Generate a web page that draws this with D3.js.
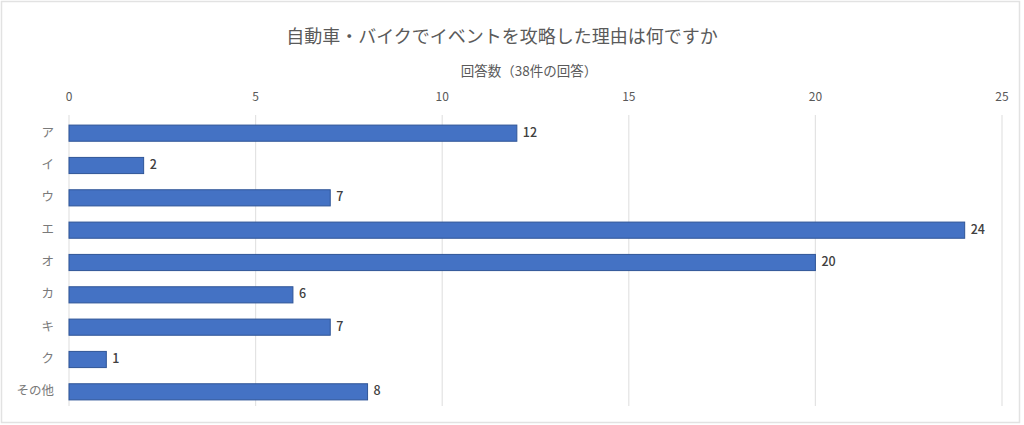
<!DOCTYPE html>
<html lang="ja">
  <head>
    <meta charset="UTF-8" />
    <script src="https://cdnjs.cloudflare.com/ajax/libs/d3/7.8.5/d3.min.js"></script>
    <title>Chart</title>
    <style>
      body { margin: 0; background: #fff; }
      text { font-family: "Noto Sans CJK JP", "Noto Sans", sans-serif; }
    </style>
  </head>
  <body>
    <script>
      const categories = ["ア", "イ", "ウ", "エ", "オ", "カ", "キ", "ク", "その他"];
      const counts = [12, 2, 7, 24, 20, 6, 7, 1, 8];
      const tickValues = [0, 5, 10, 15, 20, 25];
      const title = "自動車・バイクでイベントを攻略した理由は何ですか";
      const axisTitle = "回答数（38件の回答）";

      const W = 1024, H = 425;
      const svg = d3.select("body").append("svg")
        .attr("width", W).attr("height", H);

      // outer frame
      svg.append("rect")
        .attr("x", 1.5).attr("y", 1.5)
        .attr("width", 1018).attr("height", 421)
        .attr("fill", "#fff").attr("stroke", "#e2e2e2").attr("stroke-width", 1.5);

      const x = d3.scaleLinear().domain([0, 25]).range([69, 1002]);
      const y = d3.scaleBand().domain(categories).range([117, 408]).paddingInner(0.5).paddingOuter(0.25);

      // gridlines
      svg.append("g").selectAll("line").data(tickValues).join("line")
        .attr("x1", d => x(d)).attr("x2", d => x(d))
        .attr("y1", 115).attr("y2", 406)
        .attr("stroke", "#e3e3e3").attr("stroke-width", 1.2);

      // tick labels
      svg.append("g").selectAll("text").data(tickValues).join("text")
        .attr("x", d => x(d)).attr("y", 98)
        .attr("text-anchor", "middle").attr("dominant-baseline", "middle")
        .attr("font-size", 12).attr("fill", "#595959")
        .text(d => d);

      svg.append("text")
        .attr("x", 502).attr("y", 38)
        .attr("text-anchor", "middle").attr("dominant-baseline", "middle")
        .attr("font-size", 18).attr("fill", "#5a5a5a")
        .text(title);

      svg.append("text")
        .attr("x", 529).attr("y", 72)
        .attr("text-anchor", "middle").attr("dominant-baseline", "middle")
        .attr("font-size", 13.5).attr("fill", "#5a5a5a")
        .text(axisTitle);

      // bars
      svg.append("g").selectAll("rect").data(counts).join("rect")
        .attr("x", x(0))
        .attr("y", (d, i) => y(categories[i]))
        .attr("width", d => x(d) - x(0))
        .attr("height", y.bandwidth())
        .attr("fill", "#4472c4")
        .attr("stroke", "#2f5597").attr("stroke-width", 1);

      // value labels
      svg.append("g").selectAll("text").data(counts).join("text")
        .attr("x", d => x(d) + 6)
        .attr("y", (d, i) => y(categories[i]) + y.bandwidth() / 2)
        .attr("dominant-baseline", "middle")
        .attr("font-size", 12.5).attr("font-weight", 500).attr("fill", "#404040")
        .text(d => d);

      // category labels
      svg.append("g").selectAll("text").data(categories).join("text")
        .attr("x", 54)
        .attr("y", d => y(d) + y.bandwidth() / 2)
        .attr("text-anchor", "end").attr("dominant-baseline", "middle")
        .attr("font-size", 12.5).attr("fill", "#7a7a7a")
        .text(d => d);
    </script>
  </body>
</html>
